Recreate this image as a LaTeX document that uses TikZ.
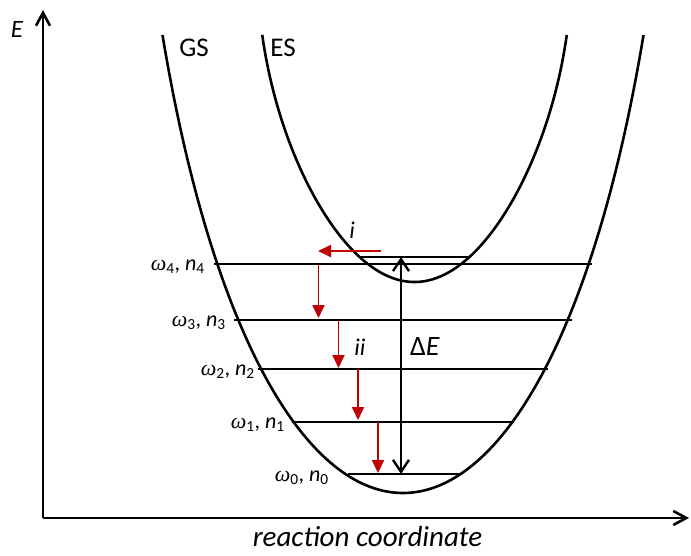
\documentclass[tikz,border=0pt]{standalone}
\usepackage{fontspec}
\setmainfont{Carlito}
\newfontfamily\greekfont{Liberation Serif}
\usetikzlibrary{arrows.meta}
\definecolor{myred}{HTML}{C00000}
\begin{document}
\begin{tikzpicture}[x=1pt,y=-1pt,
  axisline/.style={line width=2.6pt,-{Straight Barb[length=13pt,width=14pt]}},
  curve/.style={line width=2.6pt},
  level/.style={line width=1.3pt},
  relax/.style={draw=myred,line width=1.8pt,-{Triangle[length=13pt,width=12pt]}},
  gap/.style={line width=2.4pt,{Straight Barb[length=12pt,width=16pt]}-{Straight Barb[length=12pt,width=16pt]}},
  lbl/.style={font=\fontsize{22}{24}\selectfont,anchor=base east,inner sep=0pt},
  big/.style={font=\fontsize{27}{30}\selectfont,inner sep=0pt}]
\useasboundingbox (0,0) rectangle (691,555);
% axes
\coordinate (O) at (43,518);
\coordinate (Ytop) at (43,10);
\coordinate (Xend) at (689,518);
\draw[axisline] (O) -- (Ytop);
\draw[axisline] (O) -- (Xend);
\node[big,font=\fontsize{25}{28}\selectfont\itshape] (Elbl) at (17,29) {E};
\node[font=\fontsize{29}{31}\selectfont\itshape,anchor=base,inner sep=0pt] (xlbl) at (367.5,546) {reaction coordinate};
% curves
\draw[curve] plot[domain=-21.4:21.4,samples=141,smooth,variable=\s] ({403+\s*(13.3-0.0045*\s*\s)},{493-\s*\s});
\draw[curve] plot[domain=-15.72:15.72,samples=121,smooth,variable=\s] ({414.5+\s*(11-0.215*(\s*\s/100)*(\s*\s/100))},{282-\s*\s});
\node[big] (GS) at (194,48) {GS};
\node[big] (ES) at (283,48) {ES};
% levels
\coordinate (L4a) at (214,264); \coordinate (L4b) at (592,264);
\coordinate (L3a) at (234,320); \coordinate (L3b) at (572,320);
\coordinate (L2a) at (258,369); \coordinate (L2b) at (548,369);
\coordinate (L1a) at (292,422); \coordinate (L1b) at (514,422);
\coordinate (L0a) at (348,474); \coordinate (L0b) at (460,474);
\coordinate (LEa) at (360,257); \coordinate (LEb) at (468,257);
\draw[level] (L4a) -- (L4b);
\draw[level] (L3a) -- (L3b);
\draw[level] (L2a) -- (L2b);
\draw[level] (L1a) -- (L1b);
\draw[level] (L0a) -- (L0b);
\draw[level] (LEa) -- (LEb);
% level labels
\node[lbl] (w4) at (205,270) {{\greekfont\itshape ω}\textsubscript{4}, \textit{n}\textsubscript{4}};
\node[lbl] (w3) at (226,326) {{\greekfont\itshape ω}\textsubscript{3}, \textit{n}\textsubscript{3}};
\node[lbl] (w2) at (255,375) {{\greekfont\itshape ω}\textsubscript{2}, \textit{n}\textsubscript{2}};
\node[lbl] (w1) at (285,428) {{\greekfont\itshape ω}\textsubscript{1}, \textit{n}\textsubscript{1}};
\node[lbl] (w0) at (329,481) {{\greekfont\itshape ω}\textsubscript{0}, \textit{n}\textsubscript{0}};
% energy gap
\coordinate (Gt) at (401,257);
\coordinate (Gb) at (401,474);
\draw[gap] (Gb) -- (Gt);
\node[font=\fontsize{28}{30}\selectfont,inner sep=0pt] (dE) at (425,347) {Δ\textit{E}};
% relaxation arrows
\coordinate (Ia) at (381,251); \coordinate (Ib) at (318,251);
\draw[relax] (Ia) -- (Ib);
\node[font=\fontsize{24}{26}\selectfont\itshape,inner sep=0pt] (ilbl) at (352,230) {i};
\coordinate (R4) at (318.5,264); \coordinate (R4e) at (318.5,318);
\coordinate (R3) at (338.5,320); \coordinate (R3e) at (338.5,368);
\coordinate (R2) at (358,369); \coordinate (R2e) at (358,420);
\coordinate (R1) at (378,422); \coordinate (R1e) at (378,473);
\draw[relax] (R4) -- (R4e);
\draw[relax] (R3) -- (R3e);
\draw[relax] (R2) -- (R2e);
\draw[relax] (R1) -- (R1e);
\node[font=\fontsize{24}{26}\selectfont\itshape,inner sep=0pt] (iilbl) at (360,347) {ii};
\end{tikzpicture}
\end{document}
